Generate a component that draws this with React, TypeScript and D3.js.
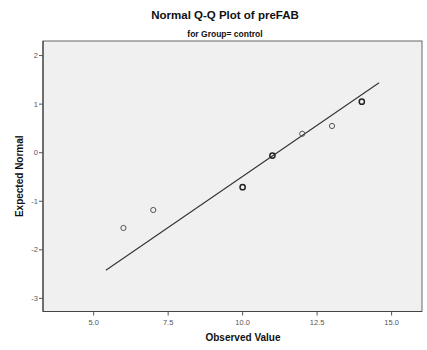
import React from "react";
import * as d3 from "d3";

const observed = [6, 7, 10, 11, 12, 13, 14];
const expected = [-1.55, -1.18, -0.71, -0.06, 0.39, 0.55, 1.05];
const tied = [false, false, true, true, false, false, true];
const lineX = [5.41, 14.58];
const lineY = [-2.42, 1.44];
const xTicks = [5, 7.5, 10, 12.5, 15];
const yTicks = [2, 1, 0, -1, -2, -3];

const W = 427, H = 350;
const L = 43, R = 422, T = 41, B = 311.5;

export default function App() {
  const x = d3.scaleLinear().domain([3.3, 16.02]).range([L, R]);
  const y = d3.scaleLinear().domain([-3.27, 2.3]).range([B, T]);
  const line = d3.line<number>().x((d, i) => x(lineX[i])).y((d, i) => y(lineY[i]));
  const font = "'Liberation Sans', Arial, sans-serif";
  return (
    <svg width={W} height={H} style={{ position: "absolute", left: 0, top: 0, fontFamily: font }}>
      <rect x={0} y={0} width={W} height={H} fill="#ffffff" />
      <text x={225} y={19} textAnchor="middle" fontSize={11.5} fontWeight="bold" fill="#111">Normal Q-Q Plot of preFAB</text>
      <text x={225} y={37} textAnchor="middle" fontSize={8.5} fontWeight="bold" fill="#111">for Group= control</text>
      <rect x={L} y={T} width={R - L} height={B - T} fill="#f0f0f0" stroke="#666" strokeWidth={1} />
      <line x1={L} y1={T} x2={L} y2={B} stroke="#444" strokeWidth={1.2} />
      <line x1={L} y1={B} x2={R} y2={B} stroke="#444" strokeWidth={1.2} />
      {yTicks.map((t) => (
        <g key={"y" + t}>
          <line x1={L - 4} x2={L} y1={y(t)} y2={y(t)} stroke="#555" />
          <text x={L - 5} y={y(t) + 2.5} textAnchor="end" fontSize={7.5} fill="#555">{t}</text>
        </g>
      ))}
      {xTicks.map((t) => (
        <g key={"x" + t}>
          <line x1={x(t)} x2={x(t)} y1={B} y2={B + 4} stroke="#555" />
          <text x={x(t)} y={B + 13} textAnchor="middle" fontSize={7.5} fill="#555">{d3.format(".1f")(t)}</text>
        </g>
      ))}
      <text x={243} y={341} textAnchor="middle" fontSize={10} fontWeight="bold" fill="#111">Observed Value</text>
      <text transform={`translate(23,${(T + B) / 2}) rotate(-90)`} textAnchor="middle" fontSize={10} fontWeight="bold" fill="#111">Expected Normal</text>
      <path d={line(lineX) || ""} fill="none" stroke="#333" strokeWidth={1.1} />
      {observed.map((v, i) => (
        <circle key={i} cx={x(v)} cy={y(expected[i])} r={2.6} fill="none"
          stroke={tied[i] ? "#222" : "#555"} strokeWidth={tied[i] ? 1.5 : 1} />
      ))}
    </svg>
  );
}
